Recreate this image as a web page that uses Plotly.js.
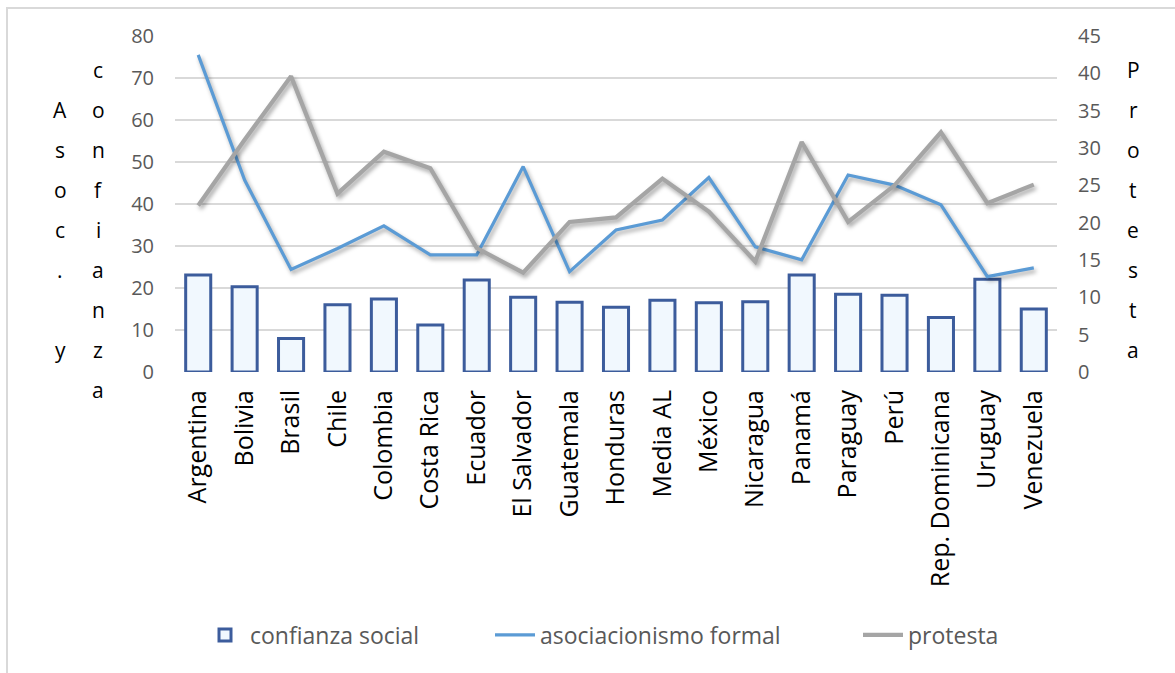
<!DOCTYPE html>
<html>
<head>
<meta charset="utf-8">
<script src="https://cdn.plot.ly/plotly-3.0.1.min.js"></script>
<style>
  html, body { margin: 0; padding: 0; background: #ffffff; overflow: hidden; }
  #wrap { position: relative; width: 1175px; height: 673px; }
  #frame { position: absolute; left: 6px; top: 7px; width: 1200px; height: 700px;
           border: 2px solid #d9d9d9; box-sizing: border-box; pointer-events: none; }
  #chart { position: absolute; left: 0; top: 0; width: 1175px; height: 673px; }
  #chart .scatterlayer .js-line { filter: drop-shadow(2px 3px 2px rgba(0,0,0,0.35)); }
</style>
</head>
<body>
<div id="wrap">
  <div id="chart"></div>
  <div id="frame"></div>
</div>
<script>
// Países y promedio regional
const categories = ['Argentina', 'Bolivia', 'Brasil', 'Chile', 'Colombia', 'Costa Rica', 'Ecuador',
  'El Salvador', 'Guatemala', 'Honduras', 'Media AL', 'México', 'Nicaragua', 'Panamá',
  'Paraguay', 'Perú', 'Rep. Dominicana', 'Uruguay', 'Venezuela'];

// Confianza social (%), eje izquierdo
const confianzaSocial = [23.1, 20.3, 8.0, 16.0, 17.4, 11.2, 21.9, 17.8, 16.6, 15.4,
  17.1, 16.5, 16.7, 23.1, 18.5, 18.3, 13.0, 22.1, 15.0];

// Asociacionismo formal (%), eje izquierdo
const asociacionismo = [75.5, 45.7, 24.4, 29.4, 34.8, 27.9, 27.9, 48.9, 23.9, 33.8,
  36.2, 46.3, 29.8, 26.7, 46.9, 44.5, 39.8, 22.7, 24.8];

// Protesta (%), eje derecho
const protesta = [22.3, 31.1, 39.6, 23.9, 29.5, 27.3, 16.6, 13.3, 20.1, 20.7,
  25.9, 21.5, 14.8, 30.8, 20.1, 25.0, 32.1, 22.6, 25.1];

// Títulos de los ejes, escritos letra por letra en vertical
const tituloIzqA = ['A', 's', 'o', 'c', '.', '', 'y'];
const tituloIzqB = ['c', 'o', 'n', 'f', 'i', 'a', 'n', 'z', 'a'];
const tituloDer = ['P', 'r', 'o', 't', 'e', 's', 't', 'a'];

const W = 1175, H = 673;
const M = { l: 175, r: 118, t: 36, b: 301 };
const plotW = W - M.l - M.r, plotH = H - M.t - M.b;
const px2x = (px) => (px - M.l) / plotW;
const px2y = (py) => (H - M.b - py) / plotH;

const fontFam = '"Open Sans", "Noto Sans", sans-serif';
const tickFont = { family: fontFam, size: 20, color: '#595959' };
const legendFont = { family: fontFam, size: 23, color: '#595959' };

const traces = [
  {
    type: 'bar', name: 'confianza social', x: categories, y: confianzaSocial,
    yaxis: 'y', width: 0.54, legend: 'legend',
    marker: { color: '#f1f8fe', line: { color: '#3c5c9c', width: 3 } }
  },
  {
    type: 'scatter', mode: 'lines', name: 'asociacionismo formal', x: categories, y: asociacionismo,
    yaxis: 'y', legend: 'legend2', line: { color: '#5b9bd5', width: 3.2 }
  },
  {
    type: 'scatter', mode: 'lines', name: 'protesta', x: categories, y: protesta,
    yaxis: 'y2', legend: 'legend3', line: { color: '#a5a5a5', width: 4.2 }
  }
];

function letterAnnotations(letters, xpx, ystart, step) {
  return letters.map((ch, i) => ({
    text: ch, xref: 'paper', yref: 'paper', x: px2x(xpx), y: px2y(ystart + i * step),
    xanchor: 'center', yanchor: 'middle', showarrow: false,
    font: { family: fontFam, size: 21, color: '#000000' }
  }));
}

const annotations = [].concat(
  letterAnnotations(tituloIzqA, 60, 110, 40),
  letterAnnotations(tituloIzqB, 98, 70, 40),
  letterAnnotations(tituloDer, 1133, 70, 40)
);

function legendAt(xpx) {
  return {
    orientation: 'h', xref: 'paper', yref: 'paper',
    x: px2x(xpx), y: px2y(635), xanchor: 'left', yanchor: 'middle',
    font: legendFont, bgcolor: 'rgba(0,0,0,0)', itemwidth: 40
  };
}

const layout = {
  width: W, height: H,
  margin: M,
  paper_bgcolor: 'rgba(0,0,0,0)',
  plot_bgcolor: 'rgba(0,0,0,0)',
  showlegend: true,
  xaxis: {
    type: 'category', tickangle: -90, showgrid: false, zeroline: false, showline: false,
    ticks: '', ticklabelstandoff: 12,
    tickfont: { family: fontFam, size: 25, color: '#000000' },
    fixedrange: true
  },
  yaxis: {
    range: [0, 80], dtick: 10, tick0: 0, showgrid: true, gridcolor: '#d9d9d9', gridwidth: 1.3,
    zeroline: false, showline: false, ticks: '', ticklabelstandoff: 20,
    tickfont: tickFont, fixedrange: true
  },
  yaxis2: {
    range: [0, 45], dtick: 5, tick0: 0, overlaying: 'y', side: 'right', showgrid: false,
    zeroline: false, showline: false, ticks: '', ticklabelstandoff: 20,
    tickfont: tickFont, fixedrange: true
  },
  legend: legendAt(200),
  legend2: legendAt(490),
  legend3: legendAt(858),
  annotations: annotations
};

Plotly.newPlot('chart', traces, layout, { displayModeBar: false, staticPlot: true });
</script>
</body>
</html>
